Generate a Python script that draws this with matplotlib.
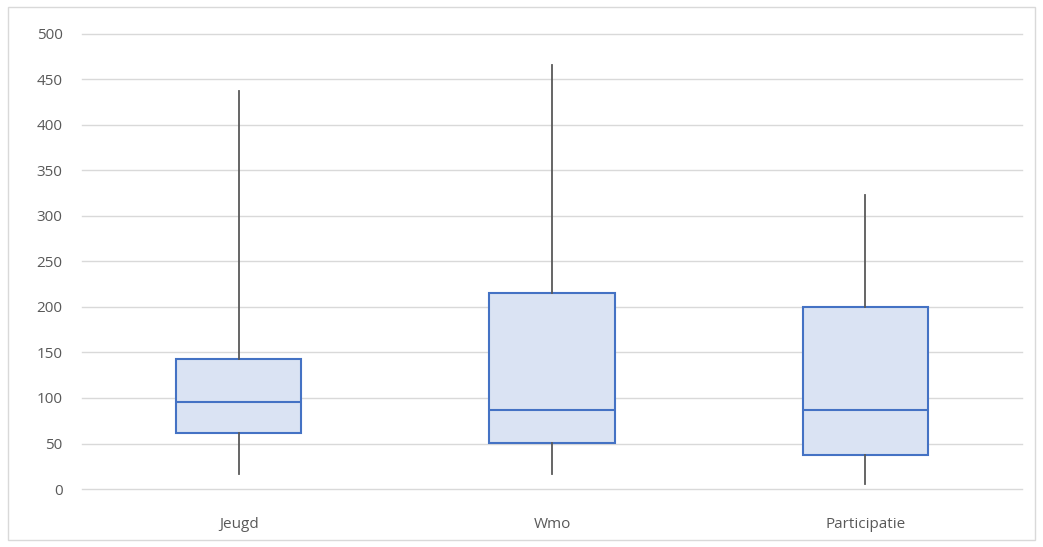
import matplotlib.pyplot as plt
from matplotlib.patches import Rectangle

categories = ["Jeugd", "Wmo", "Participatie"]
whisker_low = [17, 17, 6]
q1 = [61, 51, 37]
median = [96, 87, 87]
q3 = [143, 215, 200]
whisker_high = [437, 466, 323]


def main():
    fig = plt.figure(figsize=(10.43, 5.47), dpi=100)
    ax = fig.add_axes([0.0786, 0.106, 0.9014, 0.832])

    # outer chart border
    fig.patches.append(Rectangle((0.008, 0.012), 0.984, 0.976, transform=fig.transFigure,
                                 fill=False, edgecolor="#d9d9d9", linewidth=1))

    stats = []
    for i, name in enumerate(categories):
        stats.append({
            "label": name,
            "whislo": whisker_low[i],
            "q1": q1[i],
            "med": median[i],
            "q3": q3[i],
            "whishi": whisker_high[i],
        })

    ax.bxp(stats, positions=[1, 2, 3], widths=0.4, patch_artist=True,
           showfliers=False, showcaps=False,
           boxprops=dict(facecolor="#dae3f3", edgecolor="#4472c4", linewidth=1.5),
           medianprops=dict(color="#4472c4", linewidth=1.5),
           whiskerprops=dict(color="#595959", linewidth=1.3))

    ax.set_xlim(0.5, 3.5)
    ax.set_ylim(0, 500)
    ax.set_yticks(range(0, 501, 50))
    ax.grid(axis="y", color="#d9d9d9", linewidth=1)
    for gl in ax.get_ygridlines():
        gl.set_clip_on(False)
    ax.set_axisbelow(True)
    for s in ax.spines.values():
        s.set_visible(False)
    ax.tick_params(length=0, colors="#595959", labelsize=11)
    ax.tick_params(axis="y", pad=14)
    ax.tick_params(axis="x", pad=20)
    for lbl in ax.get_xticklabels() + ax.get_yticklabels():
        lbl.set_fontfamily("Open Sans")

    fig.savefig("out.png", dpi=100)


if __name__ == '__main__':
    main()
